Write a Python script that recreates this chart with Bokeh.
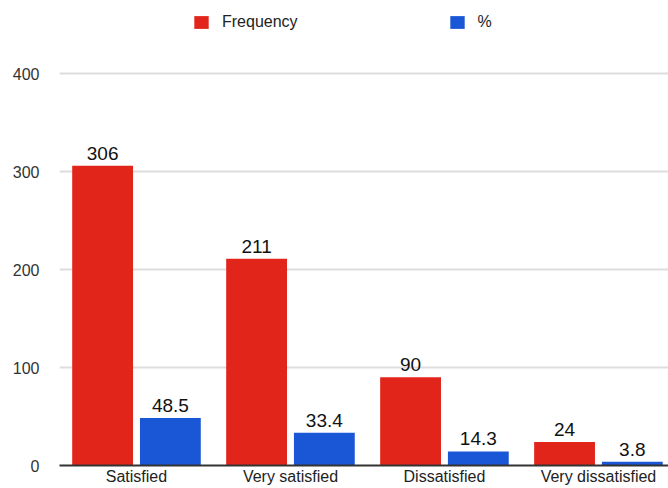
from bokeh.plotting import figure
from bokeh.models import ColumnDataSource, Range1d, FixedTicker, LabelSet
from bokeh.transform import dodge
from bokeh.core.properties import value
from bokeh.embed import file_html
from bokeh.resources import INLINE

categories = ["Satisfied", "Very satisfied", "Dissatisfied", "Very dissatisfied"]
frequency = [306, 211, 90, 24]
percent = [48.5, 33.4, 14.3, 3.8]
y_ticks = [0, 100, 200, 300, 400]

RED = "#e2251a"
BLUE = "#1a57d6"
FONT = "Liberation Sans"

xpos = [i + 0.5 for i in range(len(categories))]
src = ColumnDataSource(dict(
    x=xpos, cat=categories, freq=frequency, pct=percent,
    freq_lbl=[str(v) for v in frequency], pct_lbl=[str(v) for v in percent],
))

p = figure(width=668, height=488, output_backend="svg", toolbar_location=None,
           x_range=Range1d(0, 3.955), y_range=Range1d(0, 474.5),
           min_border_left=59, min_border_right=0, min_border_top=0, min_border_bottom=23)
p.outline_line_color = None
p.background_fill_color = "white"

p.vbar(x=dodge("x", -0.22), top="freq", width=0.395, source=src, color=RED,
       line_color=None, legend_label="Frequency")
p.vbar(x=dodge("x", 0.22), top="pct", width=0.395, source=src, color=BLUE,
       line_color=None, legend_label="%")

for col, off in (("freq", -0.22), ("pct", 0.22)):
    lbl = LabelSet(x=dodge("x", off), y=col, text=col + "_lbl", source=src,
                   text_align="center", text_baseline="alphabetic", y_offset=6,
                   text_font=value(FONT), text_font_size=value("19px"),
                   text_color="#111111")
    p.add_layout(lbl)

# axes
p.xaxis.ticker = FixedTicker(ticks=xpos)
p.xaxis.major_label_overrides = {x: c for x, c in zip(xpos, categories)}
p.xaxis.major_tick_line_color = None
p.xaxis.minor_tick_line_color = None
p.xaxis.major_tick_out = 0
p.xaxis.major_tick_in = 0
p.xaxis.minor_tick_out = 0
p.xaxis.minor_tick_in = 0
p.xaxis.axis_line_color = "#333333"
p.xaxis.axis_line_width = 2
p.xaxis.major_label_standoff = 2
p.xaxis.major_label_text_font = FONT
p.xaxis.major_label_text_font_size = "16px"
p.xaxis.major_label_text_color = "#222222"

p.yaxis.ticker = FixedTicker(ticks=y_ticks)
p.yaxis.axis_line_color = None
p.yaxis.major_tick_line_color = None
p.yaxis.minor_tick_line_color = None
p.yaxis.major_tick_out = 0
p.yaxis.major_tick_in = 0
p.yaxis.minor_tick_out = 0
p.yaxis.minor_tick_in = 0
p.yaxis.major_label_standoff = 20
p.yaxis.major_label_text_font = FONT
p.yaxis.major_label_text_font_size = "16px"
p.yaxis.major_label_text_color = "#333333"

p.xgrid.grid_line_color = None
p.ygrid.ticker = FixedTicker(ticks=y_ticks)
p.ygrid.grid_line_color = "#dddddd"
p.ygrid.grid_line_width = 2

leg = p.legend[0]
leg.orientation = "horizontal"
leg.location = (133, 434)
leg.border_line_color = None
leg.background_fill_alpha = 0
leg.padding = 0
leg.margin = 0
leg.glyph_width = 18
leg.glyph_height = 16
leg.label_height = 16
leg.label_standoff = 12
leg.spacing = 150
leg.label_text_font = FONT
leg.label_text_font_size = "16px"
leg.label_text_color = "#222222"

open("out.html", "w").write(file_html(p, INLINE))
